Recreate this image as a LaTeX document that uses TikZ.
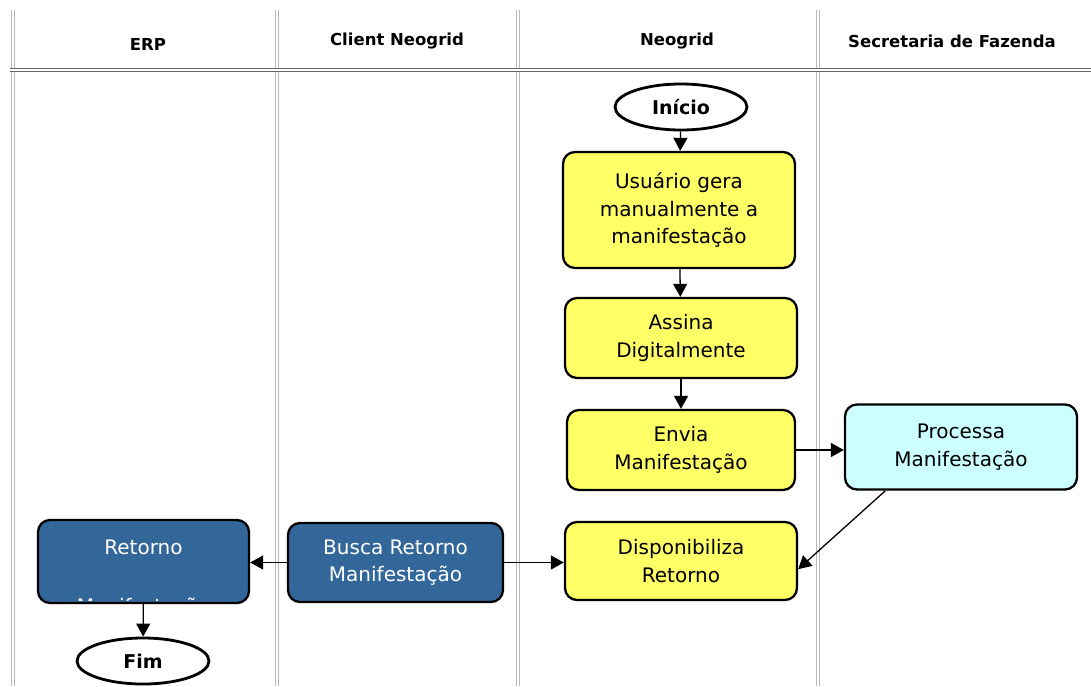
\documentclass[tikz,border=0pt]{standalone}
\usepackage{fontspec}
\setmainfont{DejaVu Sans}
\usetikzlibrary{arrows.meta,shapes.geometric}
\definecolor{boxyellow}{RGB}{255,255,102}
\definecolor{boxcyan}{RGB}{204,255,255}
\definecolor{boxblue}{RGB}{51,102,153}

\begin{document}
\begin{tikzpicture}[x=1pt,y=-1pt,
  lane/.style={draw=gray!55,double=white,double distance=2pt,line width=0.8pt},
  head/.style={font=\fontsize{16.5}{19}\selectfont\bfseries},
  box/.style={draw,line width=2.3pt,rounded corners=12pt,align=center,
    font=\fontsize{20}{27.5}\selectfont,inner sep=0pt},
  yel/.style={box,fill=boxyellow},
  cyan/.style={box,fill=boxcyan},
  blue/.style={box,fill=boxblue,text=white},
  term/.style={draw,ellipse,line width=2.8pt,minimum width=132pt,minimum height=46pt,
    font=\fontsize{19}{21}\selectfont\bfseries,inner sep=0pt},
  arr/.style={line width=1.3pt,-{Triangle[length=13pt,width=14pt]}}]
  \useasboundingbox (0,0) rectangle (1091,686);
  % swimlanes
  \draw[lane] (13,10) -- (13,686);
  \draw[lane] (277,10) -- (277,686);
  \draw[lane] (518,10) -- (518,686);
  \draw[lane] (818,10) -- (818,686);
  \draw[draw=gray!80!black,double=white,double distance=2pt,line width=0.9pt] (10,70) -- (1091,70);
  \node[head] (herp) at (148,44) {ERP};
  \node[head] (hclient) at (397,41) {Client Neogrid};
  \node[head] (hneo) at (677,41) {Neogrid};
  \node[head] (hsef) at (952,41) {Secretaria de Fazenda};
  % flow
  \node[term] (inicio) at (681,107) {Início};
  \node[yel,minimum width=232pt,minimum height=116pt] (usuario) at (679,210)
    {Usuário gera\\manualmente a\\manifestação};
  \node[yel,minimum width=232pt,minimum height=80pt] (assina) at (681,338)
    {Assina\\Digitalmente};
  \node[yel,minimum width=228pt,minimum height=80pt] (envia) at (681,450)
    {Envia\\Manifestação};
  \node[cyan,minimum width=232pt,minimum height=85pt] (processa) at (961,447)
    {Processa\\Manifestação};
  \node[yel,minimum width=232pt,minimum height=78pt] (dispon) at (681,561)
    {Disponibiliza\\Retorno};
  \node[blue,minimum width=215pt,minimum height=79pt] (busca) at (395.5,562.5)
    {Busca Retorno\\Manifestação};
  \node[blue,minimum width=211pt,minimum height=83pt] (retorno) at (143.5,561.5) {};
  \node[font=\fontsize{20}{27}\selectfont,text=white] (rettxt) at (143.5,547) {Retorno};
  \begin{scope}
    \clip (40,522) rectangle (247,600);
    \node[font=\fontsize{20}{27}\selectfont,text=white] (rettxt2) at (143.5,607.5) {Manifestação};
  \end{scope}
  \node[term] (fim) at (143,661) {Fim};
  % arrows
  \draw[arr] (inicio) -- (usuario);
  \draw[arr] (usuario) -- (assina);
  \draw[arr] (assina) -- (envia);
  \draw[arr] (envia.east) -- (processa.west |- envia.east);
  \draw[arr] (processa.210) -- (dispon.-4);
  \draw[arr] (busca.east) -- (dispon.west |- busca.east);
  \draw[arr] (busca.west) -- (retorno.east |- busca.west);
  \draw[arr] (retorno) -- (fim);
\end{tikzpicture}
\end{document}
